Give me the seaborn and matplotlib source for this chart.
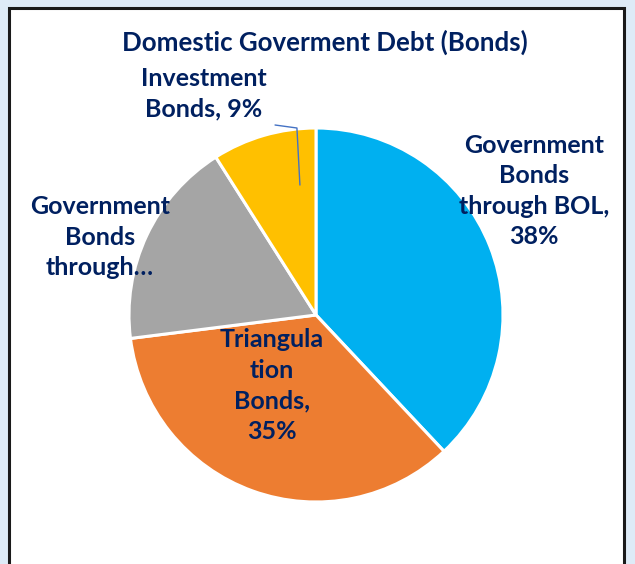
import matplotlib
matplotlib.use("Agg")
import matplotlib.pyplot as plt
from matplotlib.patches import Rectangle
import seaborn as sns

# Composition of domestic government debt (bonds), in percent
categories = ["Government Bonds through BOL", "Triangulation Bonds",
              "Government Bonds through…", "Investment Bonds"]
shares = [38, 35, 18, 9]
slice_colors = ["#00B0F0", "#ED7D31", "#A5A5A5", "#FFC000"]
label_lines = [["Government", "Bonds", "through BOL,", "38%"],
               ["Triangula", "tion", "Bonds,", "35%"],
               ["Government", "Bonds", "through…"],
               ["Investment", "Bonds, 9%"]]
title = "Domestic Goverment Debt (Bonds)"

sns.set_theme(style="white")
plt.rcParams["font.family"] = ["Lato", "DejaVu Sans"]

W, H = 635, 564
fig = plt.figure(figsize=(W / 100, H / 100), dpi=100)
fig.patch.set_facecolor("#DEEBF7")

# white chart panel with dark frame
fig.patches.append(Rectangle((9 / W, -0.02), (624 - 9) / W, 1 - 8 / H + 0.02,
                             transform=fig.transFigure, facecolor="white",
                             edgecolor="#1a1a1a", linewidth=2.2, zorder=-5))

cx, cy, r = 316, 315, 187
ax = fig.add_axes([(cx - r) / W, 1 - (cy + r) / H, 2 * r / W, 2 * r / H])
ax.set_zorder(2)
ax.set_facecolor("none")
ax.pie(shares, colors=slice_colors, startangle=90, counterclock=False,
       radius=1.0, wedgeprops=dict(edgecolor="white", linewidth=2.2))
ax.set_xlim(-1, 1)
ax.set_ylim(-1, 1)
ax.set_aspect("equal")
ax.axis("off")

navy = "#002060"
label_pos = [(1.166, 0.663), (-0.235, -0.377), (-1.155, 0.417), (-0.599, 1.184)]
for lines, (x, y) in zip(label_lines, label_pos):
    ax.text(x, y, "\n".join(lines), ha="center", va="center", color=navy,
            fontsize=18, fontweight="bold", linespacing=1.4, clip_on=False)

# leader line for the small slice
ax.plot([-0.219, -0.102, -0.086], [1.016, 1.0, 0.695], color="#4472C4",
        linewidth=1.0, clip_on=False)

fig.text(325 / W, 1 - 42 / H, title, ha="center", va="center", color=navy,
         fontsize=18.6, fontweight="bold", zorder=3)

fig.savefig("out.png", dpi=100, facecolor=fig.get_facecolor())
